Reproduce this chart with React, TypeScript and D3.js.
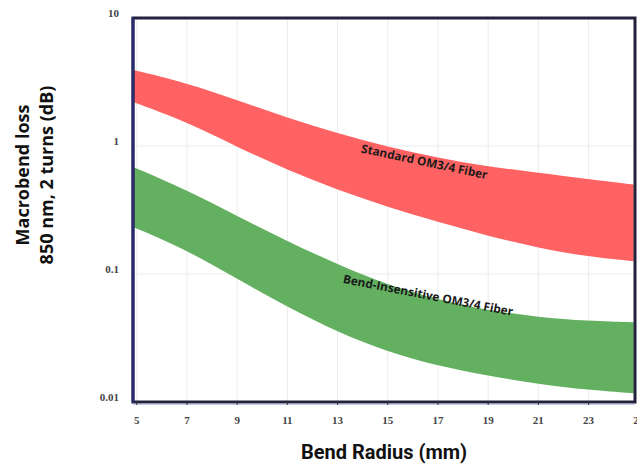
import React from 'react';
import * as d3 from 'd3';

// bend radius (mm) where the band edges were read
const radius = [4.85, 7, 9, 11, 13, 15, 17, 19, 21, 23, 24.8];
// standard OM3/4 band, dB
const stdHigh = [3.93, 3.1, 2.29, 1.65, 1.26, 0.98, 0.81, 0.69, 0.62, 0.55, 0.5];
const stdLow = [2.21, 1.54, 0.982, 0.649, 0.453, 0.334, 0.255, 0.198, 0.16, 0.136, 0.126];
// bend-insensitive band, dB
const biHigh = [0.686, 0.453, 0.283, 0.18, 0.119, 0.082, 0.063, 0.052, 0.046, 0.043, 0.042];
const biLow = [0.233, 0.154, 0.0914, 0.0552, 0.0352, 0.0246, 0.0191, 0.016, 0.0138, 0.0124, 0.0117];

const xTicks = [5, 7, 9, 11, 13, 15, 17, 19, 21, 23, 25];
const yTicks = [10, 1, 0.1, 0.01];
const yTickLabels = ['10', '1', '0.1', '0.01'];

const bandLabels = [
  { text: 'Standard OM3/4 Fiber', r: 16.45, v: 0.74, angle: 12 },
  { text: 'Bend-Insensitive OM3/4 Fiber', r: 16.6, v: 0.067, angle: 11 },
];

const W = 637;
const H = 467;
const left = 133;
const right = 635;
const top = 18;
const bottom = 402;

export default function App() {
  const x = d3.scaleLinear().domain([4.85, 24.85]).range([left, right]);
  const y = d3.scaleLog().domain([0.01, 10]).range([bottom, top]);

  const band = (hi: number[], lo: number[]) =>
    d3
      .area<number>()
      .x((d) => x(radius[d]))
      .y0((d) => y(lo[d]))
      .y1((d) => y(hi[d]))
      .curve(d3.curveBasis)(d3.range(radius.length)) as string;

  const tickFont = 'Liberation Serif, serif';
  const textFont = 'Open Sans, sans-serif';

  return (
    <svg
      width={W}
      height={H}
      style={{ position: 'absolute', left: 0, top: 0, background: '#fff' }}
    >
      {/* grid */}
      {xTicks.map((t) => (
        <line key={'gx' + t} x1={x(t)} x2={x(t)} y1={top} y2={bottom} stroke="#ececec" strokeWidth={1} />
      ))}
      {yTicks.map((t) => (
        <line key={'gy' + t} x1={left} x2={right} y1={y(t)} y2={y(t)} stroke="#ececec" strokeWidth={1} />
      ))}

      <path d={band(stdHigh, stdLow)} fill="#ff6262" />
      <path d={band(biHigh, biLow)} fill="#63b061" />

      {bandLabels.map((l) => (
        <text
          key={l.text}
          transform={`translate(${x(l.r)},${y(l.v)}) rotate(${l.angle})`}
          textAnchor="middle"
          dominantBaseline="middle"
          fontFamily={textFont}
          fontWeight={700}
          fontSize={11.8}
          fill="#1a1a1a"
        >
          {l.text}
        </text>
      ))}

      {/* frame */}
      <rect
        x={left}
        y={top}
        width={right - left}
        height={bottom - top}
        fill="none"
        stroke="#22223c"
        strokeWidth={3}
      />
      <line x1={left} x2={left} y1={top} y2={bottom} stroke="#2b2b70" strokeWidth={3} />
      <line x1={left} x2={right} y1={bottom + 2} y2={bottom + 2} stroke="#9a9ad0" strokeWidth={1} />

      {/* x ticks */}
      {xTicks.map((t) => (
        <g key={'xt' + t}>
          <line x1={x(t)} x2={x(t)} y1={bottom} y2={bottom + 3} stroke="#333" strokeWidth={1} />
          <text
            x={x(t)}
            y={421}
            textAnchor="middle"
            dominantBaseline="middle"
            fontFamily={tickFont}
            fontWeight={700}
            fontSize={11}
            fill="#444"
          >
            {t}
          </text>
        </g>
      ))}

      {/* y ticks */}
      {yTicks.map((t, i) => (
        <text
          key={'yt' + t}
          x={119}
          y={y(t) - 4}
          textAnchor="end"
          dominantBaseline="middle"
          fontFamily={tickFont}
          fontWeight={700}
          fontSize={11}
          fill="#444"
        >
          {yTickLabels[i]}
        </text>
      ))}

      <text
        x={384}
        y={454}
        textAnchor="middle"
        dominantBaseline="middle"
        fontFamily="Roboto, sans-serif"
        fontWeight={700}
        fontSize={20}
        fill="#111"
      >
        Bend Radius (mm)
      </text>

      <g transform="translate(24,175) rotate(-90)">
        <text textAnchor="middle" dominantBaseline="middle" fontFamily={textFont} fontWeight={700} fontSize={18} fill="#111">
          Macrobend loss
        </text>
      </g>
      <g transform="translate(48,175) rotate(-90)">
        <text textAnchor="middle" dominantBaseline="middle" fontFamily={textFont} fontWeight={700} fontSize={18} fill="#111">
          850 nm, 2 turns (dB)
        </text>
      </g>
    </svg>
  );
}
